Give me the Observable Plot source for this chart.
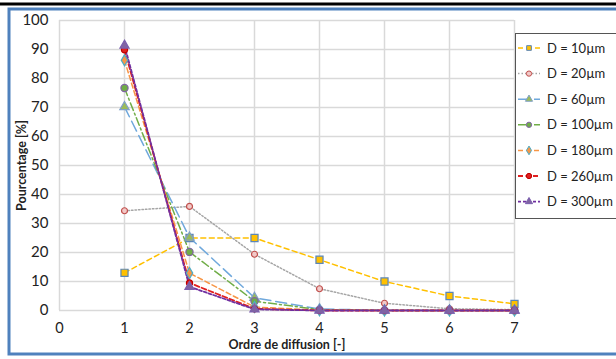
<!DOCTYPE html>
<html><head><meta charset="utf-8">
<script src="https://cdn.jsdelivr.net/npm/d3@7"></script>
<script src="https://cdn.jsdelivr.net/npm/@observablehq/plot@0.6"></script>
<style>
body{margin:0;background:#fff;font-family:Lato,"Open Sans",sans-serif;}
#chart{position:relative;width:616px;height:359px;}
</style>
</head><body><div id="chart"></div>
<script>
const orders = [1, 2, 3, 4, 5, 6, 7];
const seriesNames = ["D = 10µm", "D = 20µm", "D = 60µm", "D = 100µm", "D = 180µm", "D = 260µm", "D = 300µm"];
const d10  = [13, 25, 25, 17.5, 10, 5, 2.3];
const d20  = [34.4, 35.9, 19.4, 7.5, 2.5, 0.6, 0.3];
const d60  = [70.2, 25.2, 4.4, 0.5, 0.1, 0, 0];
const d100 = [76.7, 20.2, 3.2, 0.3, 0, 0, 0];
const d180 = [86.3, 12.9, 1.2, 0.1, 0, 0, 0];
const d260 = [89.9, 9.5, 0.6, 0, 0, 0, 0];
const d300 = [91.4, 8.2, 0.4, 0, 0, 0, 0];
const yTicks = [0, 10, 20, 30, 40, 50, 60, 70, 80, 90, 100];
const xTicks = [0, 1, 2, 3, 4, 5, 6, 7];

const allValues = [d10, d20, d60, d100, d180, d260, d300];
const styles = [
  {line:"#FFC000", dash:"5,3.5", sym:"square", fill:"#FFC000", stroke:"#5B86B8", r:4, sw:1.5},
  {line:"#A6A6A6", dash:"1.5,2", sym:"circle", fill:"#F2C9C8", stroke:"#C0504D", r:3, sw:1.5},
  {line:"#6FA8DC", dash:"11,5", sym:"triangle", fill:"#9BBB59", stroke:"#7FA0C8", r:3.5, sw:1.5},
  {line:"#70AD47", dash:"8,3,2,3", sym:"circle", fill:"#70AD47", stroke:"#8064A2", r:3.6, sw:1.5},
  {line:"#F79646", dash:"5,3", sym:"diamond", fill:"#F79646", stroke:"#4BACC6", r:3.4, sw:1.5},
  {line:"#E02020", dash:"5,2.5", sym:"circle", fill:"#E02020", stroke:"#C00000", r:3.1, sw:1.8},
  {line:"#7030A0", dash:"3,2", sym:"triangle", fill:"#8064A2", stroke:"#7B5FAF", r:3.4, sw:1.8}
];
const table = [];
seriesNames.forEach((s, i) => orders.forEach((o, j) => table.push({series: s, order: o, value: allValues[i][j]})));

const marks = [
  Plot.gridX(xTicks, {stroke: "#D9D9D9", strokeOpacity: 1, strokeWidth: 1.5}),
  Plot.gridY(yTicks, {stroke: "#D9D9D9", strokeOpacity: 1, strokeWidth: 1.5}),
  Plot.axisX(xTicks, {tickSize: 0, tickPadding: 12, fontSize: 14.5, fill: "#222", label: "Ordre de diffusion [-]", labelAnchor: "center", labelOffset: 38, labelArrow: "none"}),
  Plot.axisY(yTicks, {tickSize: 0, tickPadding: 11, fontSize: 15, fill: "#222", label: "Pourcentage [%]", labelAnchor: "center", labelOffset: 42, labelArrow: "none"})
];
seriesNames.forEach((s, i) => {
  const st = styles[i];
  const data = table.filter(d => d.series === s);
  marks.push(Plot.line(data, {x: "order", y: "value", stroke: st.line, strokeWidth: st.sw, strokeDasharray: st.dash}));
});
seriesNames.forEach((s, i) => {
  const st = styles[i];
  const data = table.filter(d => d.series === s);
  marks.push(Plot.dot(data, {x: "order", y: "value", symbol: () => st.sym, r: st.r, fill: st.fill, stroke: st.stroke, strokeWidth: 1.2}));
});

const chart = Plot.plot({
  width: 616, height: 359,
  marginLeft: 59, marginRight: 102, marginTop: 20, marginBottom: 49,
  x: {domain: [0, 7], label: "Ordre de diffusion [-]"},
  y: {domain: [0, 100], label: "Pourcentage [%]"},
  style: {fontFamily: "Lato, 'Open Sans', sans-serif", background: "#fff"},
  marks
});
document.getElementById("chart").appendChild(chart);

const svg = d3.select(chart);
svg.selectAll("[aria-label='x-axis label'] text, [aria-label='y-axis label'] text")
  .attr("font-weight", "bold").attr("font-size", 12.5).attr("fill", "#222");
// frame
svg.append("line").attr("x1", 0).attr("x2", 616).attr("y1", 4).attr("y2", 4).attr("stroke", "#000").attr("stroke-width", 3);
svg.append("rect").attr("x", 9).attr("y", 9).attr("width", 640).attr("height", 345)
  .attr("fill", "none").attr("stroke", "#4F81BD").attr("stroke-width", 3);
// legend
const lg = svg.append("g").attr("text-anchor", "start");
lg.append("rect").attr("x", 515.5).attr("y", 33.5).attr("width", 120).attr("height", 185)
  .attr("fill", "#fff").attr("stroke", "#555").attr("stroke-width", 1);
const symMap = {square: d3.symbolSquare, circle: d3.symbolCircle, triangle: d3.symbolTriangle, diamond: d3.symbolDiamond};
seriesNames.forEach((s, i) => {
  const st = styles[i];
  const y = 48 + i * 25.6;
  lg.append("line").attr("x1", 518).attr("x2", 540).attr("y1", y).attr("y2", y)
    .attr("stroke", st.line).attr("stroke-width", st.sw).attr("stroke-dasharray", st.dash);
  lg.append("path").attr("transform", `translate(529,${y})`)
    .attr("d", d3.symbol(symMap[st.sym], 22)())
    .attr("fill", st.fill).attr("stroke", st.stroke).attr("stroke-width", 1);
  lg.append("text").attr("x", 547).attr("y", y).attr("dy", "0.35em").attr("text-anchor", "start")
    .attr("font-size", 13).attr("fill", "#222").text(s);
});
</script>
</body></html>
